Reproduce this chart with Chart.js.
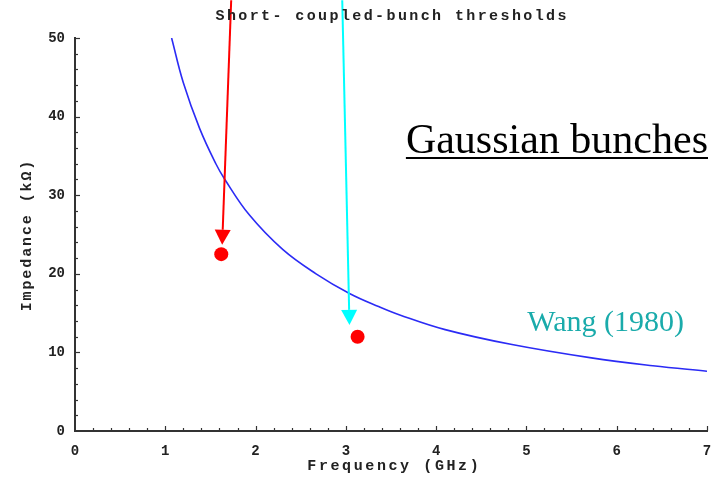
<!DOCTYPE html>
<html>
<head>
<meta charset="utf-8">
<script src="https://cdn.jsdelivr.net/npm/chart.js@4.4.1/dist/chart.umd.min.js"></script>
<style>
  html, body { margin: 0; padding: 0; background: #fff; }
  #wrap { width: 714px; height: 478px; }
</style>
</head>
<body>
<div id="wrap"><canvas id="c" width="714" height="478"></canvas></div>
<script>
// ---- data ----
const chartTitle = "Short- coupled-bunch thresholds";
const xAxisTitle = "Frequency (GHz)";
const yAxisTitle = "Impedance (kΩ)";
const xTickValues = [0, 1, 2, 3, 4, 5, 6, 7];
const yTickValues = [0, 10, 20, 30, 40, 50];

// Wang (1980) threshold curve
const wangFreq = [1.07, 1.2, 1.38, 1.56, 1.66, 1.93, 2.3, 2.67, 3.04, 3.37, 3.59, 4.1, 4.84, 5.72, 6.4, 7.0];
const wangImp  = [50, 44.3, 38.5, 34.0, 32.0, 27.5, 23.1, 20.0, 17.5, 15.8, 14.8, 12.9, 11.0, 9.3, 8.3, 7.6];

// Measured thresholds (red dots)
const measFreq = [1.62, 3.13];
const measImp  = [22.5, 12.0];

// Arrows (from above the plot down to the points)
const arrowFromFreq = [1.73, 2.96];
const arrowFromImp  = [54.8, 54.8];
const arrowToFreq   = [1.63, 3.04];
const arrowToImp    = [23.7, 13.5];
const arrowColors   = ["#ff0000", "#00ffff"];

// Text annotations
const bigLabel = "Gaussian bunches";
const curveLabel = "Wang (1980)";

// ---- chart ----
const MONO = "'Liberation Mono', 'DejaVu Sans Mono', monospace";
const SERIF = "'Liberation Serif', 'Times New Roman', serif";

function spacedText(ctx, text, x, y, spacing, align) {
  ctx.save();
  ctx.letterSpacing = spacing + "px";
  const w = ctx.measureText(text).width - spacing;
  let sx = x;
  if (align === "center") sx = x - w / 2;
  else if (align === "right") sx = x - w;
  ctx.textAlign = "left";
  ctx.fillText(text, sx, y);
  ctx.restore();
}

const decorPlugin = {
  id: "decor",
  afterDraw(chart) {
    const ctx = chart.ctx;
    const xs = chart.scales.x, ys = chart.scales.y;
    const area = chart.chartArea;

    // inward tick marks
    ctx.save();
    ctx.strokeStyle = "#333";
    ctx.lineWidth = 1.2;
    const x0 = xs.getPixelForValue(0);
    const y0 = ys.getPixelForValue(0);
    for (let i = 1; i <= 35; i++) {
      const px = Math.round(xs.getPixelForValue(i * 0.2)) + 0.5;
      const len = (i % 5 === 0) ? 5 : 3;
      ctx.beginPath();
      ctx.moveTo(px, y0);
      ctx.lineTo(px, y0 - len);
      ctx.stroke();
    }
    for (let i = 1; i <= 25; i++) {
      const py = Math.round(ys.getPixelForValue(i * 2)) + 0.5;
      const len = (i % 5 === 0) ? 5 : 3;
      ctx.beginPath();
      ctx.moveTo(x0, py);
      ctx.lineTo(x0 + len, py);
      ctx.stroke();
    }
    ctx.restore();

    // arrows
    for (let i = 0; i < arrowFromFreq.length; i++) {
      const ax = xs.getPixelForValue(arrowFromFreq[i]);
      const ay = ys.getPixelForValue(arrowFromImp[i]);
      const bx = xs.getPixelForValue(arrowToFreq[i]);
      const by = ys.getPixelForValue(arrowToImp[i]);
      const ang = Math.atan2(by - ay, bx - ax);
      const headLen = 15, headHalf = 8;
      const hx = bx - headLen * Math.cos(ang);
      const hy = by - headLen * Math.sin(ang);
      ctx.save();
      ctx.strokeStyle = arrowColors[i];
      ctx.fillStyle = arrowColors[i];
      ctx.lineWidth = 2;
      ctx.beginPath();
      ctx.moveTo(ax, ay);
      ctx.lineTo(hx, hy);
      ctx.stroke();
      ctx.beginPath();
      ctx.moveTo(bx, by);
      ctx.lineTo(hx + headHalf * Math.sin(ang), hy - headHalf * Math.cos(ang));
      ctx.lineTo(hx - headHalf * Math.sin(ang), hy + headHalf * Math.cos(ang));
      ctx.closePath();
      ctx.fill();
      ctx.restore();
    }

    // titles
    ctx.save();
    ctx.fillStyle = "#222";
    ctx.textBaseline = "middle";
    ctx.font = "bold 15px " + MONO;
    spacedText(ctx, chartTitle, (area.left + area.right) / 2, 16, 2.4, "center");
    spacedText(ctx, xAxisTitle, (area.left + area.right) / 2 + 2, 466, 2.6, "center");
    ctx.translate(27, 236);
    ctx.rotate(-Math.PI / 2);
    spacedText(ctx, yAxisTitle, 0, 0, 1.9, "center");
    ctx.restore();

    // big label
    ctx.save();
    ctx.fillStyle = "#000";
    ctx.font = "42px " + SERIF;
    ctx.textBaseline = "alphabetic";
    ctx.textAlign = "right";
    ctx.fillText(bigLabel, 708, 153);
    const w = ctx.measureText(bigLabel).width;
    ctx.fillRect(708 - w, 157, w, 2);
    ctx.font = "30px " + SERIF;
    ctx.fillStyle = "#1aabab";
    ctx.fillText(curveLabel, 684, 331);
    ctx.restore();
  }
};

new Chart(document.getElementById("c"), {
  type: "scatter",
  data: {
    datasets: [
      {
        label: "Wang (1980)",
        data: wangFreq.map((f, i) => ({ x: f, y: wangImp[i] })),
        showLine: true,
        borderColor: "#2b2bf5",
        borderWidth: 1.6,
        pointRadius: 0,
        tension: 0.4,
        fill: false
      },
      {
        label: "Measured",
        data: measFreq.map((f, i) => ({ x: f, y: measImp[i] })),
        showLine: false,
        pointStyle: "circle",
        pointRadius: 7,
        backgroundColor: "#ff0000",
        borderColor: "#ff0000",
        borderWidth: 0
      }
    ]
  },
  options: {
    responsive: false,
    animation: false,
    devicePixelRatio: 1,
    layout: { padding: { top: 38, right: 2, left: 0, bottom: 0 } },
    plugins: {
      legend: { display: false },
      tooltip: { enabled: false },
      title: { display: false }
    },
    scales: {
      x: {
        type: "linear",
        min: 0, max: 7,
        afterFit(s) { s.height = 47; s.paddingLeft = 0; s.paddingRight = 0; },
        afterBuildTicks(s) { s.ticks = xTickValues.map(v => ({ value: v })); },
        grid: { display: false, drawTicks: false },
        border: { display: true, color: "#333", width: 2 },
        ticks: { color: "#222", font: { family: MONO, size: 14, weight: "bold" }, padding: 12, maxRotation: 0 }
      },
      y: {
        type: "linear",
        min: 0, max: 50,
        afterFit(s) { s.width = 75; s.paddingTop = 0; s.paddingBottom = 0; },
        afterBuildTicks(s) { s.ticks = yTickValues.map(v => ({ value: v })); },
        grid: { display: false, drawTicks: false },
        border: { display: true, color: "#333", width: 2 },
        ticks: { color: "#222", font: { family: MONO, size: 14, weight: "bold" }, padding: 10 }
      }
    }
  },
  plugins: [decorPlugin]
});
</script>
</body>
</html>
